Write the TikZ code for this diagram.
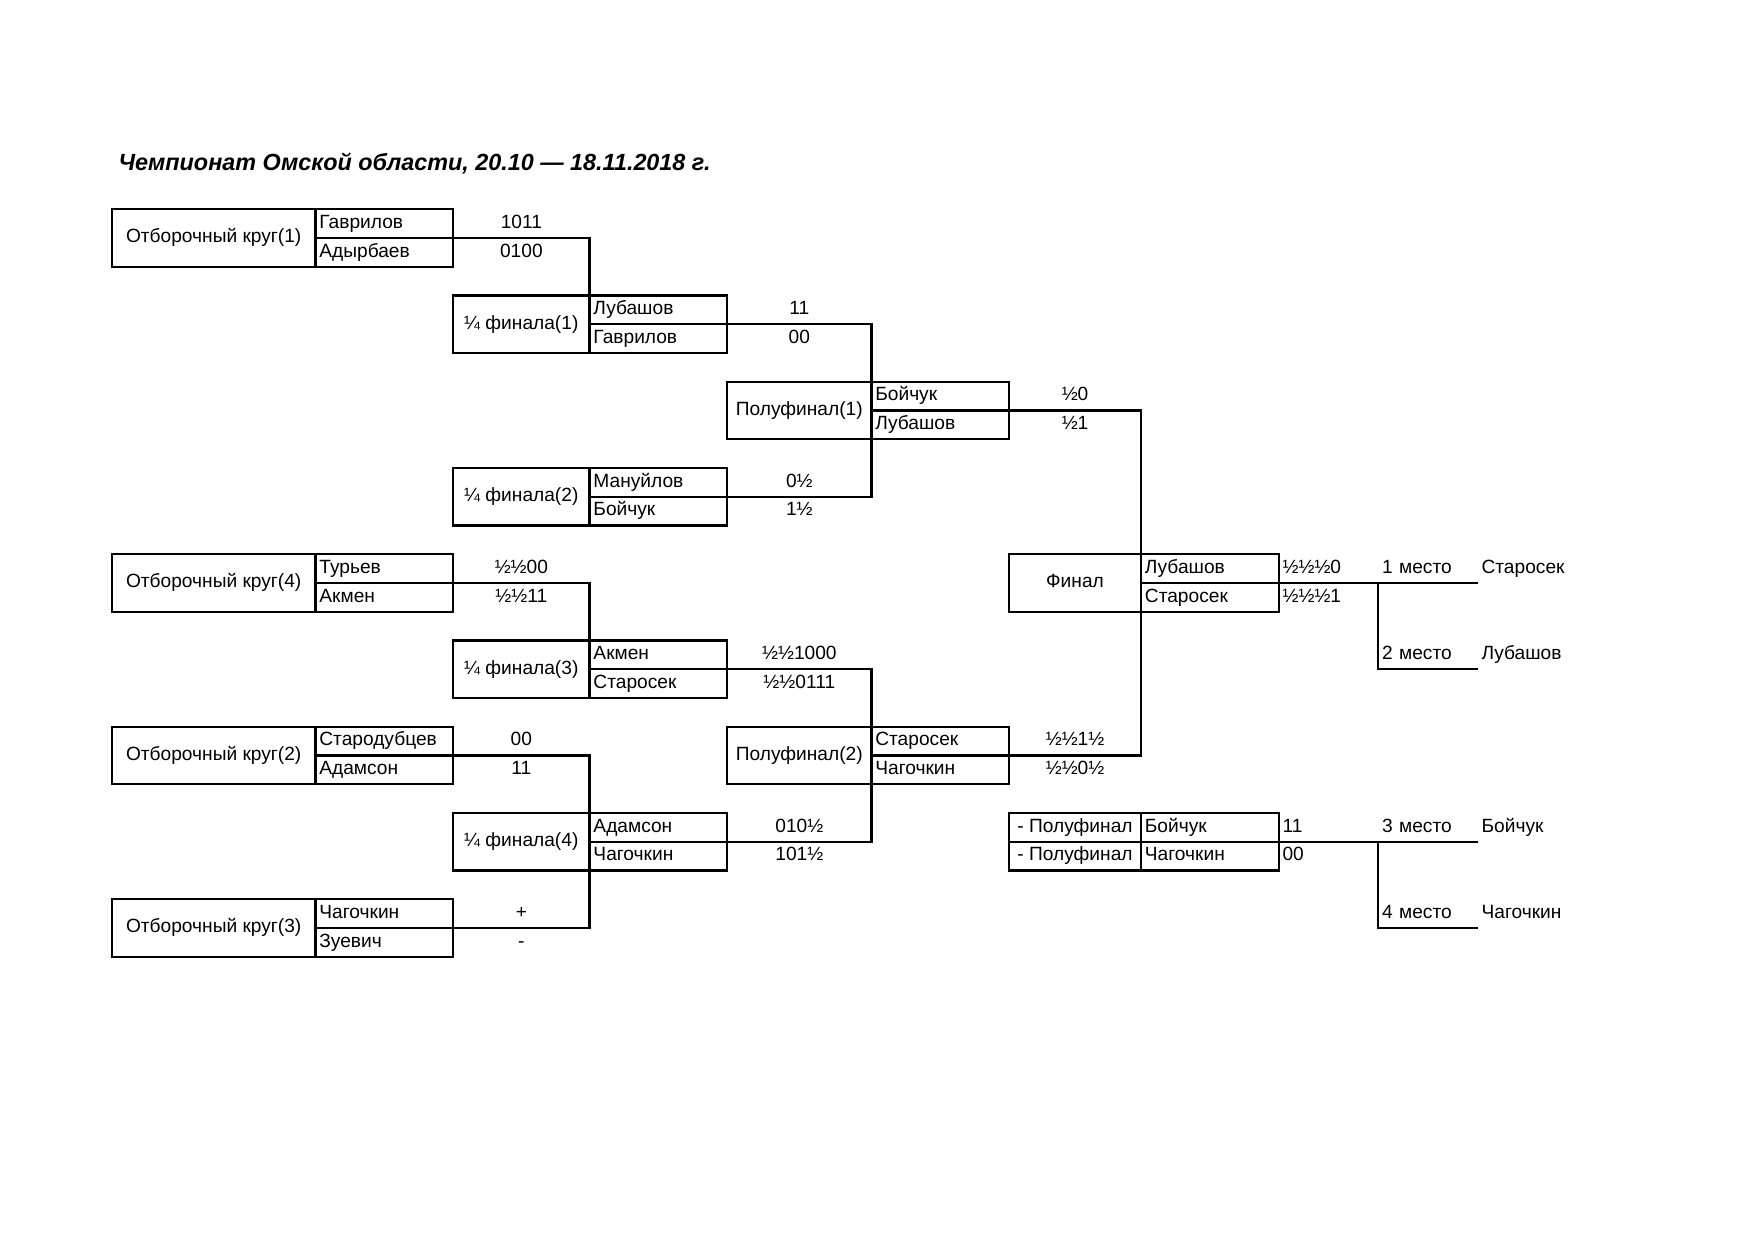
\documentclass[tikz,border=0pt]{standalone}
\usepackage{fontspec}
\setmainfont{Liberation Sans}
\usetikzlibrary{positioning}

\begin{document}
\begin{tikzpicture}[x=0.011186cm, y=-0.011186cm, line width=0.65pt, every node/.style={rectangle, inner sep=0pt, outer sep=0pt, minimum height=0.2875cm, text height=4.0pt, text depth=1.2pt, font=\fontsize{5.45}{6.5}\selectfont}]
		\tikzstyle{stage} = [draw, anchor=north west, minimum height=0.575cm, align=center]
		\tikzstyle{half} = [draw, anchor=north west, minimum width=1.32cm, align=center]
		\tikzstyle{player} = [draw, anchor=north west, inner xsep=0.039cm, text width=1.298cm, align=left]
		\tikzstyle{pts} = [align=center]
		\tikzstyle{place} = [inner xsep=0.039cm, text width=0.917cm, align=left]
		
		\useasboundingbox (0,0) rectangle (1568,1108.5);
		\node[anchor=west, font=\fontsize{6.65}{7.5}\selectfont\bfseries\itshape] (title) at (106,148) {Чемпионат Омской области, 20.10 — 18.11.2018 г.};
		
		% отборочный круг
		\node[stage, minimum width=2.036cm] (o1) at (100,187) {Отборочный круг(1)};
		\node[player] (o1a) at (o1.north east) {Гаврилов};
		\node[player, below=0pt of o1a] (o1b) {Адырбаев};
		\node[pts, minimum width=1.365cm, right=0pt of o1a] (s1a) {1011};
		\node[pts, minimum width=1.365cm, right=0pt of o1b] (s1b) {0100};
		
		\node[stage, minimum width=2.036cm] (o4) at (100,495.4) {Отборочный круг(4)};
		\node[player] (o4a) at (o4.north east) {Турьев};
		\node[player, below=0pt of o4a] (o4b) {Акмен};
		\node[pts, minimum width=1.365cm, right=0pt of o4a] (s4a) {½½00};
		\node[pts, minimum width=1.365cm, right=0pt of o4b] (s4b) {½½11};
		
		\node[stage, minimum width=2.036cm] (o2) at (100,649.6) {Отборочный круг(2)};
		\node[player] (o2a) at (o2.north east) {Стародубцев};
		\node[player, below=0pt of o2a] (o2b) {Адамсон};
		\node[pts, minimum width=1.365cm, right=0pt of o2a] (s2a) {00};
		\node[pts, minimum width=1.365cm, right=0pt of o2b] (s2b) {11};
		
		\node[stage, minimum width=2.036cm] (o3) at (100,803.8) {Отборочный круг(3)};
		\node[player] (o3a) at (o3.north east) {Чагочкин};
		\node[player, below=0pt of o3a] (o3b) {Зуевич};
		\node[pts, minimum width=1.365cm, right=0pt of o3a] (s3a) {+};
		\node[pts, minimum width=1.365cm, right=0pt of o3b] (s3b) {-};
		
		% четвертьфиналы
		\node[stage, minimum width=1.365cm] (q1) at (405,264.1) {¼ финала(1)};
		\node[player] (q1a) at (q1.north east) {Лубашов};
		\node[player, below=0pt of q1a] (q1b) {Гаврилов};
		\node[pts, minimum width=1.443cm, right=0pt of q1a] (t1a) {11};
		\node[pts, minimum width=1.443cm, right=0pt of q1b] (t1b) {00};
		
		\node[stage, minimum width=1.365cm] (q2) at (405,418.3) {¼ финала(2)};
		\node[player] (q2a) at (q2.north east) {Мануйлов};
		\node[player, below=0pt of q2a] (q2b) {Бойчук};
		\node[pts, minimum width=1.443cm, right=0pt of q2a] (t2a) {0½};
		\node[pts, minimum width=1.443cm, right=0pt of q2b] (t2b) {1½};
		
		\node[stage, minimum width=1.365cm] (q3) at (405,572.5) {¼ финала(3)};
		\node[player] (q3a) at (q3.north east) {Акмен};
		\node[player, below=0pt of q3a] (q3b) {Старосек};
		\node[pts, minimum width=1.443cm, right=0pt of q3a] (t3a) {½½1000};
		\node[pts, minimum width=1.443cm, right=0pt of q3b] (t3b) {½½0111};
		
		\node[stage, minimum width=1.365cm] (q4) at (405,726.7) {¼ финала(4)};
		\node[player] (q4a) at (q4.north east) {Адамсон};
		\node[player, below=0pt of q4a] (q4b) {Чагочкин};
		\node[pts, minimum width=1.443cm, right=0pt of q4a] (t4a) {010½};
		\node[pts, minimum width=1.443cm, right=0pt of q4b] (t4b) {101½};
		
		% полуфиналы
		\node[stage, minimum width=1.443cm] (sf1) at (650,341.2) {Полуфинал(1)};
		\node[player] (sf1a) at (sf1.north east) {Бойчук};
		\node[player, below=0pt of sf1a] (sf1b) {Лубашов};
		\node[pts, minimum width=1.32cm, right=0pt of sf1a] (u1a) {½0};
		\node[pts, minimum width=1.32cm, right=0pt of sf1b] (u1b) {½1};
		
		\node[stage, minimum width=1.443cm] (sf2) at (650,649.6) {Полуфинал(2)};
		\node[player] (sf2a) at (sf2.north east) {Старосек};
		\node[player, below=0pt of sf2a] (sf2b) {Чагочкин};
		\node[pts, minimum width=1.32cm, right=0pt of sf2a] (u2a) {½½1½};
		\node[pts, minimum width=1.32cm, right=0pt of sf2b] (u2b) {½½0½};
		
		% финал и матч за 3 место
		\node[stage, minimum width=1.32cm] (fin) at (902,495.4) {Финал};
		\node[player] (fina) at (fin.north east) {Лубашов};
		\node[player, below=0pt of fina] (finb) {Старосек};
		\node[place, right=0pt of fina] (fs1) {½½½0};
		\node[place, right=0pt of finb] (fs2) {½½½1};
		\node[place, right=0pt of fs1] (m1) {1 место};
		\node[place, below=0.575cm of m1] (m2) {2 место};
		\node[place, right=0pt of m1] (n1) {Старосек};
		\node[place, right=0pt of m2] (n2) {Лубашов};
		
		\node[half] (b1) at (902,726.7) {- Полуфинал};
		\node[half, below=0pt of b1] (b2) {- Полуфинал};
		\node[player] (bra) at (b1.north east) {Бойчук};
		\node[player] (brb) at (b2.north east) {Чагочкин};
		\node[place, right=0pt of bra] (bs1) {11};
		\node[place, right=0pt of brb] (bs2) {00};
		\node[place, right=0pt of bs1] (m3) {3 место};
		\node[place, below=0.575cm of m3] (m4) {4 место};
		\node[place, right=0pt of m3] (n3) {Бойчук};
		\node[place, right=0pt of m4] (n4) {Чагочкин};
		
		\draw (o1a.south east) -| (q1a.north west);
		\draw (o4a.south east) -| (q3a.north west);
		\draw (o2a.south east) -| (q4a.north west);
		\draw (o3a.south east) -| (q4b.south west);
		\draw (q1a.south east) -| (sf1a.north west);
		\draw (q2a.south east) -| (sf1b.south west);
		\draw (q3a.south east) -| (sf2a.north west);
		\draw (q4a.south east) -| (sf2b.south west);
		\draw (sf1a.south east) -| (fina.north west);
		\draw (sf2a.south east) -| (finb.south west);
		\draw (fina.south east) -- (m1.south east);
		\draw (m1.south west) |- (m2.south east);
		\draw (bra.south east) -- (m3.south east);
		\draw (m3.south west) |- (m4.south east);
	\end{tikzpicture}
\end{document}
